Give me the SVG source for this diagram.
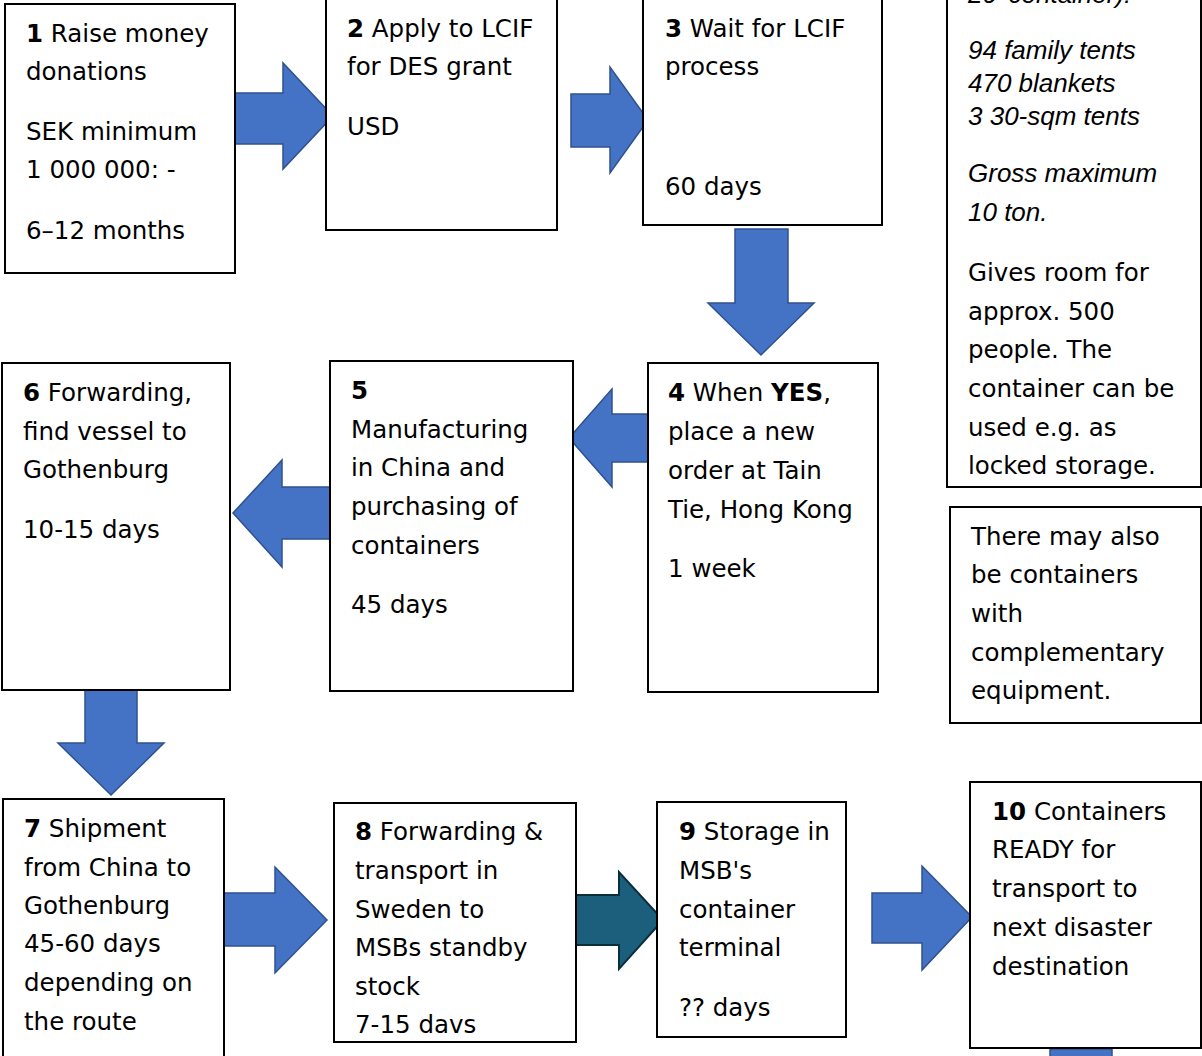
<svg xmlns="http://www.w3.org/2000/svg" width="1202" height="1056" viewBox="0 0 1202 1056">
<style>
.box{fill:#fff;stroke:#000;stroke-width:2}
.t{font-family:"DejaVu Sans","Liberation Sans",sans-serif;font-size:24.5px;fill:#000}
.it{font-family:"Liberation Sans",Arial,sans-serif;font-style:italic;font-size:26px;fill:#000}
.b{font-weight:bold}
.arr{fill:#4472C4;stroke:#2F528F;stroke-width:1.5}
.arr2{fill:#1B5F7C;stroke:#0B2E3D;stroke-width:2}
</style>
<rect width="1202" height="1056" fill="#fff"/>
<g id="connectors">
<polygon class="arr" points="233,93 283,93 283,63 333,116 283,169 283,144 233,144"/>
<polygon class="arr" points="571,94 610,94 610,67 648,120 610,173 610,147 571,147"/>
<polygon class="arr" points="735,229 788,229 788,303 814,303 761,355 708,303 735,303"/>
<polygon class="arr" points="648,414 612,414 612,389 569,438 612,487 612,462 648,462"/>
<polygon class="arr" points="330,487 282,487 282,460 233,513 282,567 282,539 330,539"/>
<polygon class="arr" points="85,690 137,690 137,743 164,743 111,795 58,743 85,743"/>
<polygon class="arr" points="224,893 275,893 275,867 327,920 275,973 275,946 224,946"/>
<polygon class="arr2" points="575,895 619,895 619,872 663,920 619,969 619,945 575,945"/>
<polygon class="arr" points="872,893 922,893 922,866 972,917 922,970 922,943 872,943"/>
<rect class="arr" x="1050" y="1049" width="62" height="12"/>
</g>
<g id="n1">
<rect class="box" x="5" y="4" width="230" height="269"/>
<text class="t" x="26" y="42"><tspan class="b">1</tspan> Raise money</text>
<text class="t" x="26" y="80">donations</text>
<text class="t" x="26" y="140">SEK minimum</text>
<text class="t" x="26" y="178">1 000 000: -</text>
<text class="t" x="26" y="239">6–12 months</text>
</g>
<g id="n2">
<rect class="box" x="326" y="-5" width="231" height="235"/>
<text class="t" x="347" y="37"><tspan class="b">2</tspan> Apply to LCIF</text>
<text class="t" x="347" y="75">for DES grant</text>
<text class="t" x="347" y="135">USD</text>
</g>
<g id="n3">
<rect class="box" x="643" y="-5" width="239" height="230"/>
<text class="t" x="665" y="37"><tspan class="b">3</tspan> Wait for LCIF</text>
<text class="t" x="665" y="75">process</text>
<text class="t" x="665" y="195">60 days</text>
</g>
<g id="n4">
<rect class="box" x="648" y="363" width="230" height="329"/>
<text class="t" x="668" y="401"><tspan class="b">4</tspan> When <tspan class="b">YES</tspan>,</text>
<text class="t" x="668" y="440">place a new</text>
<text class="t" x="668" y="479">order at Tain</text>
<text class="t" x="668" y="518">Tie, Hong Kong</text>
<text class="t" x="668" y="577">1 week</text>
</g>
<g id="n5">
<rect class="box" x="330" y="361" width="243" height="330"/>
<text class="t b" x="351" y="399">5</text>
<text class="t" x="351" y="438">Manufacturing</text>
<text class="t" x="351" y="476">in China and</text>
<text class="t" x="351" y="515">purchasing of</text>
<text class="t" x="351" y="554">containers</text>
<text class="t" x="351" y="613">45 days</text>
</g>
<g id="n6">
<rect class="box" x="2" y="363" width="228" height="327"/>
<text class="t" x="23" y="401"><tspan class="b">6</tspan> Forwarding,</text>
<text class="t" x="23" y="440">find vessel to</text>
<text class="t" x="23" y="478">Gothenburg</text>
<text class="t" x="23" y="538">10-15 days</text>
</g>
<g id="n7">
<rect class="box" x="3" y="799" width="221" height="270"/>
<text class="t" x="24" y="837"><tspan class="b">7</tspan> Shipment</text>
<text class="t" x="24" y="876">from China to</text>
<text class="t" x="24" y="914">Gothenburg</text>
<text class="t" x="24" y="952">45-60 days</text>
<text class="t" x="24" y="991">depending on</text>
<text class="t" x="24" y="1030">the route</text>
</g>
<g id="n8">
<rect class="box" x="334" y="803" width="242" height="239"/>
<text class="t" x="355" y="840"><tspan class="b">8</tspan> Forwarding &amp;</text>
<text class="t" x="355" y="879">transport in</text>
<text class="t" x="355" y="918">Sweden to</text>
<text class="t" x="355" y="956">MSBs standby</text>
<text class="t" x="355" y="995">stock</text>
<text class="t" x="355" y="1033">7-15 davs</text>
</g>
<g id="n9">
<rect class="box" x="657" y="802" width="189" height="235"/>
<text class="t" x="679" y="840"><tspan class="b">9</tspan> Storage in</text>
<text class="t" x="679" y="879">MSB's</text>
<text class="t" x="679" y="918">container</text>
<text class="t" x="679" y="956">terminal</text>
<text class="t" x="679" y="1016">?? days</text>
</g>
<g id="n10">
<rect class="box" x="970" y="782" width="231" height="266"/>
<text class="t" x="992" y="820"><tspan class="b">10</tspan> Containers</text>
<text class="t" x="992" y="858">READY for</text>
<text class="t" x="992" y="897">transport to</text>
<text class="t" x="992" y="936">next disaster</text>
<text class="t" x="992" y="975">destination</text>
</g>
<g id="info">
<rect class="box" x="947" y="-10" width="254" height="497"/>
<text class="it" x="968" y="3">20’ container):</text>
<text class="it" x="968" y="59">94 family tents</text>
<text class="it" x="968" y="92">470 blankets</text>
<text class="it" x="968" y="125">3 30-sqm tents</text>
<text class="it" x="968" y="182">Gross maximum</text>
<text class="it" x="968" y="221">10 ton.</text>
<text class="t" x="968" y="281">Gives room for</text>
<text class="t" x="968" y="320">approx. 500</text>
<text class="t" x="968" y="358">people. The</text>
<text class="t" x="968" y="397">container can be</text>
<text class="t" x="968" y="436">used e.g. as</text>
<text class="t" x="968" y="474">locked storage.</text>
</g>
<g id="note">
<rect class="box" x="950" y="507" width="251" height="216"/>
<text class="t" x="971" y="545">There may also</text>
<text class="t" x="971" y="583">be containers</text>
<text class="t" x="971" y="622">with</text>
<text class="t" x="971" y="661">complementary</text>
<text class="t" x="971" y="699">equipment.</text>
</g>
</svg>
